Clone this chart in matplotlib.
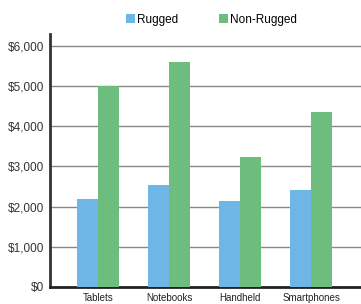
import numpy as np
import matplotlib.pyplot as plt
from matplotlib.ticker import FuncFormatter

plt.rcParams['font.family'] = ['Liberation Sans', 'DejaVu Sans']

# data
categories = ['Tablets', 'Notebooks', 'Handheld', 'Smartphones']
rugged = [2190, 2540, 2140, 2410]
non_rugged = [5000, 5600, 3230, 4350]

fig = plt.figure(figsize=(3.61, 3.04), dpi=100)
ax = fig.add_axes([50/361, 1-287/304, 311/361, (287-34)/304])

x = np.arange(len(categories))
w = 0.296
ax.bar(x - w/2, rugged, w, color='#6db6e6', label='Rugged', zorder=3)
ax.bar(x + w/2, non_rugged, w, color='#6dbd7f', label='Non-Rugged', zorder=3)

ax.set_xlim(-0.676, 3.70)
ax.set_ylim(0, 6000 + 12/40.2*1000)
ax.set_yticks(range(0, 7000, 1000))
ax.yaxis.set_major_formatter(FuncFormatter(lambda v, p: '${:,.0f}'.format(v)))
ax.set_xticks(x)
ax.set_xticklabels(categories, fontsize=7, color='#222222')
ax.tick_params(axis='y', labelsize=8.5, labelcolor='#333333', length=0, pad=4)
ax.tick_params(axis='x', length=0, pad=4)
ax.grid(axis='y', color='#888888', linewidth=1, zorder=0)

for s in ['top', 'right']:
    ax.spines[s].set_visible(False)
ax.spines['left'].set_linewidth(2)
ax.spines['left'].set_color('#333333')
ax.spines['bottom'].set_linewidth(2)
ax.spines['bottom'].set_color('#222222')

fig.legend(loc='upper center', bbox_to_anchor=(0.585, 0.975), ncol=2, frameon=False,
           fontsize=8.5, handlelength=0.8, handleheight=0.8, handletextpad=0.1,
           columnspacing=3.5, borderpad=0)

fig.savefig('out.png', dpi=100)
